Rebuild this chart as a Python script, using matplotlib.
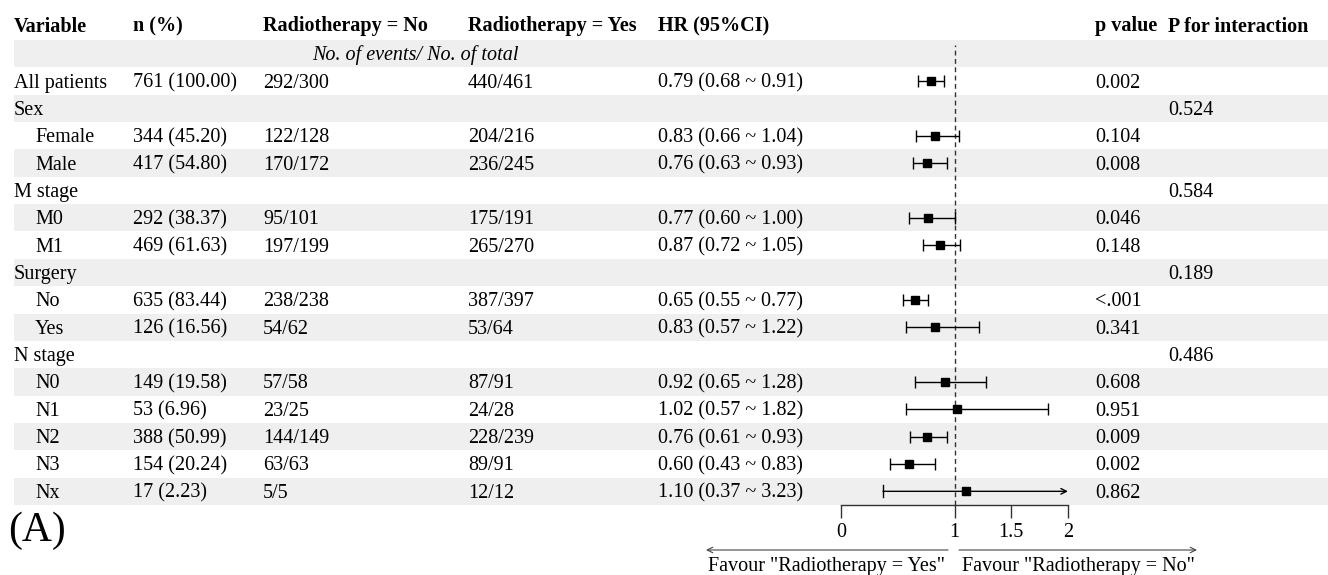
import matplotlib.pyplot as plt

plt.rcParams['font.family'] = ['Liberation Serif', 'DejaVu Serif']

# table columns
headers = ["Variable", "n (%)", "Radiotherapy = No", "Radiotherapy = Yes",
           "HR (95%CI)", "p value", "P for interaction"]
variables = ["All patients", "Sex", "Female", "Male", "M stage", "M0", "M1",
             "Surgery", "No", "Yes", "N stage", "N0", "N1", "N2", "N3", "Nx"]
indent = [False, False, True, True, False, True, True,
          False, True, True, False, True, True, True, True, True]
n_pct = ["761 (100.00)", "", "344 (45.20)", "417 (54.80)", "", "292 (38.37)", "469 (61.63)",
         "", "635 (83.44)", "126 (16.56)", "", "149 (19.58)", "53 (6.96)", "388 (50.99)",
         "154 (20.24)", "17 (2.23)"]
rt_no = ["292/300", "", "122/128", "170/172", "", "95/101", "197/199",
         "", "238/238", "54/62", "", "57/58", "23/25", "144/149", "63/63", "5/5"]
rt_yes = ["440/461", "", "204/216", "236/245", "", "175/191", "265/270",
          "", "387/397", "53/64", "", "87/91", "24/28", "228/239", "89/91", "12/12"]
hr = [0.79, None, 0.83, 0.76, None, 0.77, 0.87, None, 0.65, 0.83, None, 0.92, 1.02, 0.76, 0.60, 1.10]
lo = [0.68, None, 0.66, 0.63, None, 0.60, 0.72, None, 0.55, 0.57, None, 0.65, 0.57, 0.61, 0.43, 0.37]
hi = [0.91, None, 1.04, 0.93, None, 1.00, 1.05, None, 0.77, 1.22, None, 1.28, 1.82, 0.93, 0.83, 3.23]
p_value = ["0.002", "", "0.104", "0.008", "", "0.046", "0.148", "", "<.001", "0.341", "",
           "0.608", "0.951", "0.009", "0.002", "0.862"]
p_inter = ["", "0.524", "", "", "0.584", "", "", "0.189", "", "", "0.486", "", "", "", "", ""]

W, H = 1328, 575
fig = plt.figure(figsize=(W / 100, H / 100), dpi=100)
ax = fig.add_axes([0, 0, 1, 1])
ax.set_xlim(0, W)
ax.set_ylim(H, 0)
ax.axis('off')

fs = 14.5
col_x = [14, 133, 263, 468, 658, 1095, 1168]
top = 40
nrows = len(variables) + 1
row_h = (505 - top) / nrows
base_off = 6.5  # baseline sits a little below the row centre

def row_y(i):
    return top + row_h * (i + 0.5)

# header
for x, h in zip(col_x, headers):
    ax.text(x, 25 + base_off, h, fontsize=fs, fontweight='bold', va='baseline')

# striped background
for i in range(nrows):
    if i % 2 == 0:
        ax.axhspan(top + row_h * i, top + row_h * (i + 1), xmin=14 / W, xmax=1,
                   color='#efefef', lw=0, zorder=0)

ax.text(415, row_y(0) + base_off, "No. of events/ No. of total", fontsize=fs,
        style='italic', ha='center', va='baseline')

for k, name in enumerate(variables):
    y = row_y(k + 1) + base_off
    ax.text(35 if indent[k] else col_x[0], y, name, fontsize=fs, va='baseline')
    cells = [n_pct[k], rt_no[k], rt_yes[k]]
    if hr[k] is not None:
        cells.append("%.2f (%.2f ~ %.2f)" % (hr[k], lo[k], hi[k]))
    else:
        cells.append("")
    cells += [p_value[k], p_inter[k]]
    for x, c in zip(col_x[1:], cells):
        if c:
            ax.text(x, y, c, fontsize=fs, va='baseline')

# forest plot panel
xmax = 2
fax = fig.add_axes([841 / W, 1 - 505 / H, 227 / W, (505 - top) / H])
fax.patch.set_visible(False)
fax.set_xlim(0, xmax)
fax.set_ylim(nrows, 0)
for s in ['top', 'right', 'left']:
    fax.spines[s].set_visible(False)
fax.spines['bottom'].set_linewidth(1)
fax.spines['bottom'].set_color('#333333')
fax.set_yticks([])
fax.set_xticks([0, 1, 1.5, 2])
fax.set_xticklabels(["0", "1", "1.5", "2"])
fax.tick_params(axis='x', length=9, width=1, color='#333333', labelsize=fs, pad=4)
fax.axvline(1, ymax=0.99, ls=(0, (3.5, 2.5)), color='#333333', lw=1)

for k in range(len(variables)):
    if hr[k] is None:
        continue
    y = k + 1.5
    if hi[k] > xmax:
        fax.annotate('', xy=(xmax, y), xytext=(lo[k], y),
                     arrowprops=dict(arrowstyle='->', color='black', lw=1,
                                     shrinkA=0, shrinkB=0), annotation_clip=False)
        fax.plot([lo[k], lo[k]], [y - 0.22, y + 0.22], color='black', lw=1)
        fax.plot(hr[k], y, 's', color='black', ms=5.5)
    else:
        fax.errorbar(hr[k], y, xerr=[[hr[k] - lo[k]], [hi[k] - hr[k]]], fmt='s',
                     color='black', ms=5.5, capsize=4.3, elinewidth=1, capthick=1)

# direction arrows under the axis
ax.annotate('', xy=(706, 550), xytext=(948, 550),
            arrowprops=dict(arrowstyle='->', color='#444444', lw=0.8, shrinkA=0, shrinkB=0))
ax.annotate('', xy=(1197, 550), xytext=(959, 550),
            arrowprops=dict(arrowstyle='->', color='#444444', lw=0.8, shrinkA=0, shrinkB=0))
ax.text(826, 571, 'Favour "Radiotherapy = Yes"', fontsize=fs, ha='center', va='baseline')
ax.text(1078, 571, 'Favour "Radiotherapy = No"', fontsize=fs, ha='center', va='baseline')

ax.text(8, 541, "(A)", fontsize=30, va='baseline')

fig.savefig("out.png", dpi=100)
